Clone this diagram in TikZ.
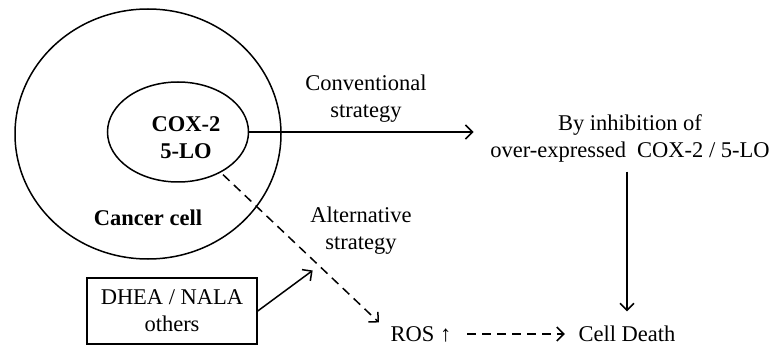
\documentclass[tikz,border=0pt]{standalone}
\usepackage{fontspec}
\setmainfont{Liberation Serif}
\usetikzlibrary{arrows.meta,shapes.geometric}
\tikzset{
  txt/.style={font=\fontsize{22.5}{27}\selectfont,align=center,inner sep=3pt},
  btxt/.style={txt,font=\fontsize{22.5}{27}\selectfont\bfseries},
  oval/.style={draw,ellipse,inner sep=0pt},
  conn/.style={-{Straight Barb[length=7pt,width=14pt]}},
  dconn/.style={conn,dash pattern=on 9pt off 6pt}
}

\begin{document}
\begin{tikzpicture}[x=1pt,y=1pt,line width=1.5pt]
  \useasboundingbox (0,0) rectangle (772,346);
  \node[oval,minimum width=266pt,minimum height=250pt] (cell) at (148,212) {};
  \node[oval,minimum width=141pt,minimum height=100pt] (enz) at (178,214) {};
  \node[btxt] (enzlbl) at (186,208) {COX-2\\5-LO};
  \node[btxt] (celllbl) at (148,128) {Cancer cell};
  \node[txt] (conv) at (366,247) {Conventional\\strategy};
  \node[txt] (inhib) at (630,208) {By inhibition of\\over-expressed~ COX-2 / 5-LO};
  \node[txt] (alt) at (361,115) {Alternative\\strategy};
  \node[txt,draw,minimum width=170pt,minimum height=66pt] (drug) at (172,35) {DHEA / NALA\\others};
  \node[txt] (ros) at (421,12) {ROS ↑};
  \node[txt] (death) at (627,12) {Cell Death};
  % conventional route
  \draw[conn,shorten >=13pt] (enz.east) -- (enz.east -| inhib.west);
  \draw[conn,shorten <=6pt,shorten >=11pt] (death.north |- inhib.south) -- (death.north);
  % alternative route
  \draw[dconn,shorten <=3pt,shorten >=11pt] (enz) -- ([yshift=4pt]ros.west);
  \draw[conn] (drug.east) -- ([shift={(6pt,-12pt)}]alt.south west);
  \draw[dconn,shorten <=12pt,shorten >=10pt] (ros.east) -- (death.west);
\end{tikzpicture}
\end{document}
